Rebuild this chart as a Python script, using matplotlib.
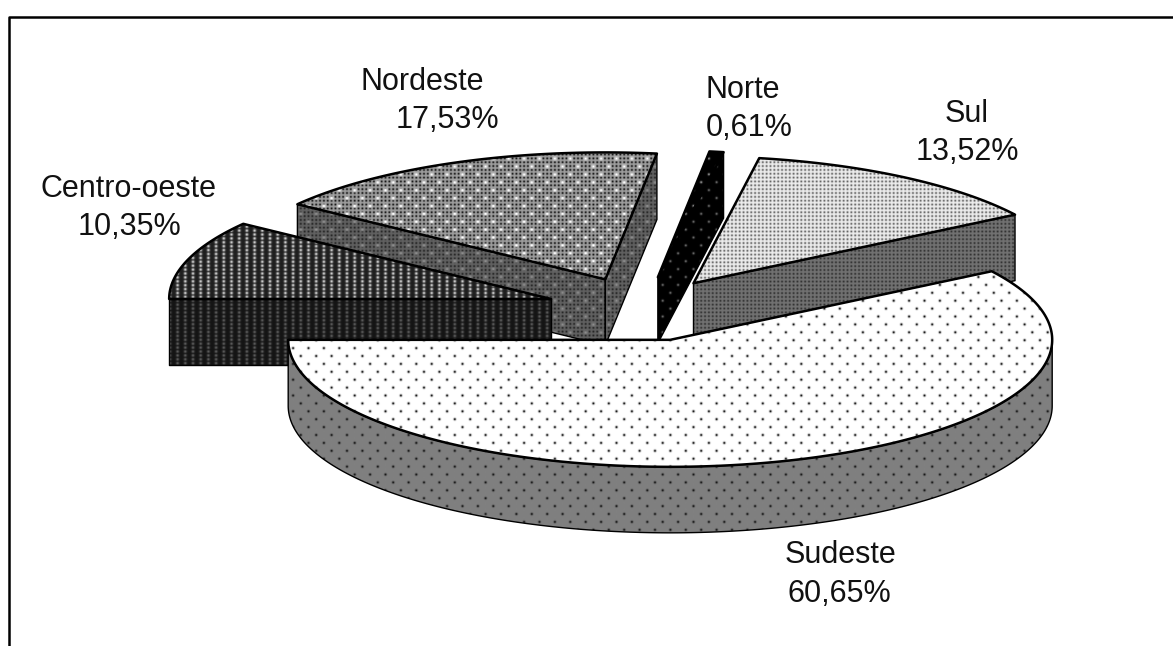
import numpy as np
import matplotlib
matplotlib.use("Agg")
import matplotlib.pyplot as plt
from matplotlib.patches import Polygon

# Regional shares, as printed on the labels (they add up to more than 100)
regions = ["Centro-oeste", "Nordeste", "Norte", "Sul", "Sudeste"]
shares = [10.35, 17.53, 0.61, 13.52, 60.65]
share_labels = ["10,35%", "17,53%", "0,61%", "13,52%", "60,65%"]

# Back to front, so the big slice ends up on top
draw_order = ["Sul", "Norte", "Nordeste", "Centro-oeste", "Sudeste"]

W, H = 1173, 646
CX, CY = 643, 309   # centre of the unexploded pie
RX, RY = 382, 127
DEPTH = 66
EXPLODE = 0.253
START_ANGLE = 180

plt.rcParams['font.family'] = ['Liberation Sans', 'DejaVu Sans']

yy, xx = np.mgrid[0:H, 0:W]


def dots(px, py, sigma, stagger=True):
    # soft dots on a regular lattice, 1 at the centre of each dot
    row = np.round(yy / py)
    shift = (row % 2) * px / 2 if stagger else 0
    dx = (xx + shift) % px
    dx = np.minimum(dx, px - dx)
    dy = yy % py
    dy = np.minimum(dy, py - dy)
    return np.exp(-(dx**2 + dy**2) / (2 * sigma**2))


COARSE = dots(15.4, 7.9, 0.9)
COARSE_BIG = dots(15.4, 7.9, 1.3)
FINE = dots(3.85, 3.85, 0.8, stagger=False)
WIDE = dots(7.7, 3.9, 1.1, stagger=False)


def mix(base, layer, value):
    return base + (value - base) * layer


flat = np.ones((H, W))
textures = {
    "Sudeste": (mix(flat, COARSE, 0.1), mix(flat * 0.5, COARSE, 0.1)),
    "Sul": (mix(flat * 0.93, FINE, 0.4), mix(flat * 0.45, FINE, 0.2)),
    "Norte": (mix(flat * 0.0, COARSE, 0.55), mix(flat * 0.0, COARSE, 0.4)),
    "Nordeste": (mix(mix(flat * 0.62, FINE, 0.1), COARSE_BIG, 1.0),
                 mix(mix(flat * 0.38, FINE, 0.15), COARSE_BIG, 0.55)),
    "Centro-oeste": (mix(flat * 0.12, WIDE, 0.8), mix(flat * 0.08, WIDE, 0.35)),
}

# Label centres: region name, then its share on the line below
name_pos = {
    "Centro-oeste": (128, 189),
    "Nordeste": (422, 82),
    "Norte": (743, 90),
    "Sul": (967, 114),
    "Sudeste": (840, 555),
}
value_pos = {
    "Centro-oeste": (130, 227),
    "Nordeste": (447, 120),
    "Norte": (749, 128),
    "Sul": (967, 152),
    "Sudeste": (839, 594),
}

# The Sul slice sits a little closer in than the common explosion puts it
nudge = {"Sul": (-3, 1)}


def rim_point(cx, cy, angle):
    a = np.radians(angle)
    return cx + RX * np.cos(a), cy - RY * np.sin(a)


def textured(ax, pts, tex, lw=1.3):
    # pixel pattern clipped to the polygon, outline drawn over it
    im = ax.imshow(tex, cmap="gray", vmin=0, vmax=1, extent=(0, W, H, 0),
                   interpolation="nearest", aspect="auto", zorder=ax.zcount)
    clip = Polygon(pts, closed=True, transform=ax.transData)
    im.set_clip_path(clip)
    ax.add_patch(Polygon(pts, closed=True, fill=False, edgecolor="black",
                         linewidth=lw, joinstyle="round", zorder=ax.zcount + 0.5))
    ax.zcount += 1


def draw_slice(ax, name, start, end):
    tex_top, tex_side = textures[name]
    mid = np.radians((start + end) / 2)
    nx, ny = nudge.get(name, (0, 0))
    cx = CX + EXPLODE * RX * np.cos(mid) + nx
    cy = CY - EXPLODE * RY * np.sin(mid) + ny

    # cut faces that look towards the viewer
    if np.cos(np.radians(start)) < 0:
        px, py = rim_point(cx, cy, start)
        textured(ax, [(cx, cy), (px, py), (px, py + DEPTH), (cx, cy + DEPTH)], tex_side, 1.0)
    if np.cos(np.radians(end)) > 0:
        px, py = rim_point(cx, cy, end)
        textured(ax, [(cx, cy), (px, py), (px, py + DEPTH), (cx, cy + DEPTH)], tex_side, 1.0)

    # outer wall, only the front half of the ellipse shows
    angles = np.linspace(end, start, 300)
    front = angles[np.sin(np.radians(angles)) <= 1e-9]
    if len(front) > 1:
        fx, fy = rim_point(cx, cy, front)
        wall = list(zip(fx, fy)) + list(zip(fx[::-1], fy[::-1] + DEPTH))
        textured(ax, wall, tex_side, 1.0)

    # top face
    rx, ry = rim_point(cx, cy, angles)
    top = [(cx, cy)] + list(zip(rx, ry))
    textured(ax, top, tex_top, 1.8)


fig = plt.figure(figsize=(W / 100, H / 100), dpi=100)
ax = fig.add_axes([0, 0, 1, 1])
ax.zcount = 2

total = sum(shares)
sweeps = [s / total * 360 for s in shares]
bounds = START_ANGLE - np.concatenate(([0], np.cumsum(sweeps)))

for name in draw_order:
    i = regions.index(name)
    draw_slice(ax, name, bounds[i], bounds[i + 1])

for name, lab in zip(regions, share_labels):
    ax.text(*name_pos[name], name, ha="center", va="center", fontsize=22,
            color="#111111", zorder=50)
    ax.text(*value_pos[name], lab, ha="center", va="center", fontsize=22,
            color="#111111", zorder=50)

# chart frame, only top and left are inside the canvas
ax.plot([9, 9, W], [H, 16.5, 16.5], color="black", linewidth=1.8, zorder=60, clip_on=False)

ax.set_xlim(0, W)
ax.set_ylim(H, 0)
ax.axis("off")

fig.savefig("out.png", dpi=100, facecolor="white")
